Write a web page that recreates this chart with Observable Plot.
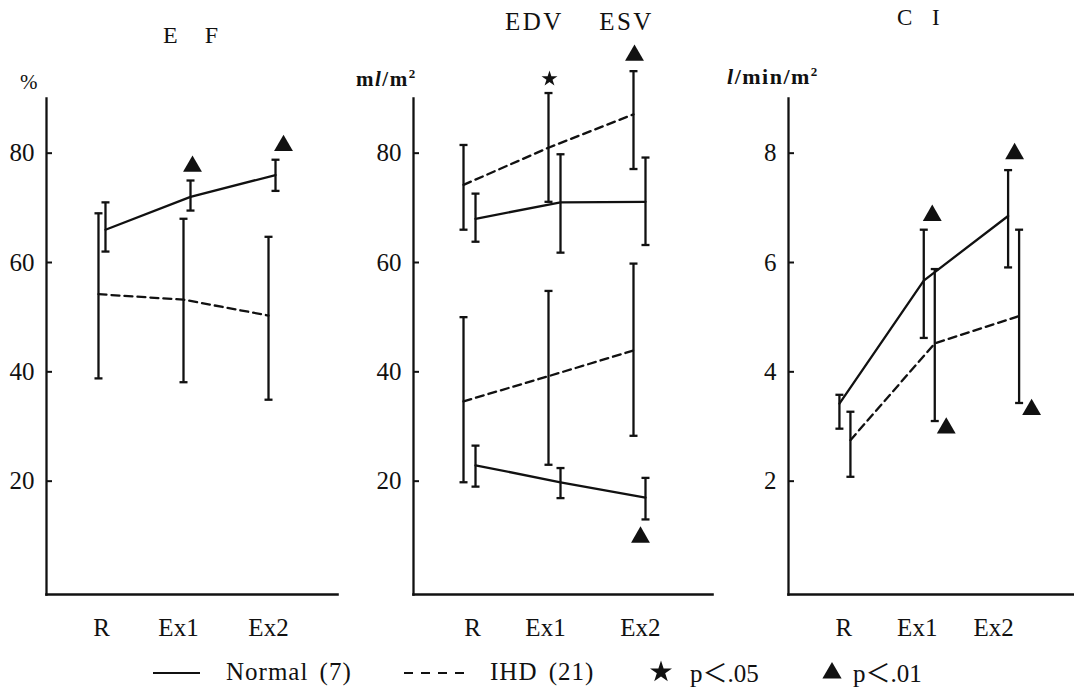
<!DOCTYPE html>
<html><head><meta charset="utf-8">
<script src="https://cdn.jsdelivr.net/npm/d3@7"></script>
<script src="https://cdn.jsdelivr.net/npm/@observablehq/plot@0.6"></script>
<style>
body{margin:0;background:#fff;}
#root{position:relative;width:1074px;height:690px;font-family:'Liberation Serif';color:#111;overflow:hidden;}
.abs{position:absolute;white-space:pre;line-height:1;font-family:'Liberation Serif';}
.abs svg{display:block;}
svg text{font-family:'Liberation Serif';}
.cjk{font-family:'Noto Sans CJK JP';}
</style></head><body><div id="root"></div>
<script>
// ---------- data ----------
const categories = ["R", "Ex1", "Ex2"];

// E F (%)
const efNormalMean  = [66, 72, 76];
const efNormalUpper = [71, 75, 78.8];
const efNormalLower = [62, 69.5, 73.1];
const efIhdMean  = [54.2, 53.2, 50.3];
const efIhdUpper = [69, 68, 64.7];
const efIhdLower = [38.8, 38.1, 34.9];
const efSigCats   = ["Ex1", "Ex2"];
const efSigValues = [77.6, 81.4];
const efSigKinds  = ["p01", "p01"];

// EDV (ml/m2)
const edvNormalMean  = [68, 71, 71.1];
const edvNormalUpper = [72.6, 79.8, 79.2];
const edvNormalLower = [63.8, 61.8, 63.2];
const edvIhdMean  = [74.2, 81, 87.1];
const edvIhdUpper = [81.5, 91, 95];
const edvIhdLower = [66, 71.1, 77.1];
// ESV (ml/m2)
const esvNormalMean  = [22.9, 19.8, 17];
const esvNormalUpper = [26.5, 22.4, 20.6];
const esvNormalLower = [19, 16.9, 13];
const esvIhdMean  = [34.6, 39.2, 43.9];
const esvIhdUpper = [50, 54.8, 59.8];
const esvIhdLower = [19.8, 23, 28.3];
const volSigCats   = ["Ex1", "Ex2", "Ex2"];
const volSigValues = [93.6, 97.9, 9.75];
const volSigKinds  = ["p05", "p01", "p01"];

// C I (l/min/m2)
const ciNormalMean  = [3.42, 5.67, 6.85];
const ciNormalUpper = [3.58, 6.6, 7.69];
const ciNormalLower = [2.96, 4.62, 5.91];
const ciIhdMean  = [2.75, 4.52, 5.02];
const ciIhdUpper = [3.27, 5.88, 6.6];
const ciIhdLower = [2.08, 3.1, 3.43];
const ciSigCats   = ["Ex1", "Ex2", "Ex1", "Ex2"];
const ciSigValues = [6.86, 7.99, 2.97, 3.31];
const ciSigKinds  = ["p01", "p01", "p01", "p01"];

const efTicks = [20, 40, 60, 80];
const volTicks = [20, 40, 60, 80];
const ciTicks = [2, 4, 6, 8];

// ---------- helpers ----------
const rowsOf = (mean, upper, lower) =>
  categories.map((c, i) => ({cat: c, xi: i + 1, mean: mean[i], upper: upper[i], lower: lower[i]}));
const catIndex = c => categories.indexOf(c) + 1;

const capSymbol = {
  draw(ctx, size) {
    const w = Math.sqrt(size / Math.PI);
    ctx.moveTo(-w, 0);
    ctx.lineTo(w, 0);
  }
};

const FONT = "Liberation Serif";

// layout / style per panel (pixels only here)
const panels = [
  {
    left: 0, width: 345, marginLeft: 46, marginRight: 8, xDomain: [0.365, 3.788],
    yDomain: [0, 90], yTicks: efTicks, dxN: 5, dxI: -2, labelDx: [1, -7, -2],
    series: [
      {group: "Normal", rows: rowsOf(efNormalMean, efNormalUpper, efNormalLower)},
      {group: "IHD", rows: rowsOf(efIhdMean, efIhdUpper, efIhdLower)}
    ],
    sig: {cats: efSigCats, values: efSigValues, kinds: efSigKinds}, sigDx: [7, 13]
  },
  {
    left: 350, width: 364, marginLeft: 63, marginRight: 2, xDomain: [0.341, 3.859],
    yDomain: [0, 90], yTicks: volTicks, dxN: 6, dxI: -6, labelDx: [3, -9, 1],
    series: [
      {group: "Normal", rows: rowsOf(edvNormalMean, edvNormalUpper, edvNormalLower)},
      {group: "IHD", rows: rowsOf(edvIhdMean, edvIhdUpper, edvIhdLower)},
      {group: "Normal", rows: rowsOf(esvNormalMean, esvNormalUpper, esvNormalLower)},
      {group: "IHD", rows: rowsOf(esvIhdMean, esvIhdUpper, esvIhdLower)}
    ],
    sig: {cats: volSigCats, values: volSigValues, kinds: volSigKinds}, sigDx: [-5, -5, 1]
  },
  {
    left: 714, width: 360, marginLeft: 74, marginRight: 0, xDomain: [0.331, 3.722],
    yDomain: [0, 9], yTicks: ciTicks, dxN: -5.5, dxI: 5.5, labelDx: [-1, -12, -20],
    series: [
      {group: "Normal", rows: rowsOf(ciNormalMean, ciNormalUpper, ciNormalLower)},
      {group: "IHD", rows: rowsOf(ciIhdMean, ciIhdUpper, ciIhdLower)}
    ],
    sig: {cats: ciSigCats, values: ciSigValues, kinds: ciSigKinds}, sigDx: [3, 1, 17, 18]
  }
];

const root = document.getElementById("root");

for (const p of panels) {
  const marks = [
    Plot.frame({anchor: "left", stroke: "#111", strokeWidth: 2.3}),
    Plot.frame({anchor: "bottom", stroke: "#111", strokeWidth: 2.6}),
    Plot.axisY({ticks: p.yTicks, tickSize: -6, tickPadding: 18, fontSize: 25, fontFamily: FONT, label: null, stroke: "#111", strokeWidth: 2})
  ];
  categories.forEach((c, i) => {
    marks.push(Plot.axisX({ticks: [i + 1], tickFormat: () => c, tickSize: 0, tickPadding: 24,
      fontSize: 25, fontFamily: FONT, label: null, dx: p.labelDx[i]}));
  });
  for (const s of p.series) {
    const dx = s.group === "Normal" ? p.dxN : p.dxI;
    const dashed = s.group === "IHD";
    marks.push(Plot.line(s.rows, {x: "xi", y: "mean", dx, stroke: "#111", strokeWidth: 2.3,
      strokeDasharray: dashed ? "8,5" : "none"}));
    marks.push(Plot.ruleX(s.rows, {x: "xi", y1: "lower", y2: "upper", dx, stroke: "#111", strokeWidth: 2.3}));
    const caps = s.rows.flatMap(r => [{xi: r.xi, v: r.lower}, {xi: r.xi, v: r.upper}]);
    marks.push(Plot.dot(caps, {x: "xi", y: "v", dx, symbol: capSymbol, r: 4, stroke: "#111", strokeWidth: 2.3, fill: "none"}));
  }
  p.sig.cats.forEach((c, i) => {
    const kind = p.sig.kinds[i];
    marks.push(Plot.dot([{xi: catIndex(c), v: p.sig.values[i]}], {
      x: "xi", y: "v", dx: p.sigDx[i],
      symbol: kind === "p01" ? "triangle" : "star",
      r: kind === "p01" ? 7 : 5, fill: "#111", stroke: "none"
    }));
  });
  const chart = Plot.plot({
    width: p.width, height: 640,
    marginLeft: p.marginLeft, marginRight: p.marginRight, marginTop: 98, marginBottom: 46,
    x: {type: "linear", domain: p.xDomain},
    y: {type: "linear", domain: p.yDomain, range: [590, 98]},
    style: {fontFamily: FONT, color: "#111", background: "transparent", overflow: "visible"},
    marks
  });
  chart.style.fontFamily = FONT;
  const wrap = document.createElement("div");
  wrap.className = "abs";
  wrap.style.left = p.left + "px";
  wrap.style.top = "0px";
  wrap.appendChild(chart);
  root.appendChild(wrap);
}

// ---------- titles, units, legend ----------
function addText(html, left, top, size, extra) {
  const d = document.createElement("div");
  d.className = "abs";
  d.innerHTML = html;
  d.style.left = left + "px";
  d.style.top = top + "px";
  d.style.fontSize = size + "px";
  d.style.fontFamily = FONT;
  if (extra) Object.assign(d.style, extra);
  root.appendChild(d);
  return d;
}
addText("E F", 163, 23, 24, {wordSpacing: "21px"});
addText("EDV ESV", 505, 9, 25, {letterSpacing: "2.5px", wordSpacing: "27px"});
addText("C I", 897, 6, 23, {wordSpacing: "14px"});
addText("%", 20, 72, 21);
addText("m<i>l</i>/m<sup style='font-size:13px;vertical-align:8px'>2</sup>", 356, 67, 21, {fontWeight: "bold", letterSpacing: "1.5px"});
addText("<i>l</i>/min/m<sup style='font-size:13px;vertical-align:8px'>2</sup>", 727, 65, 22, {fontWeight: "bold", letterSpacing: "1.5px"});

// legend
const legendSvg = (w, inner) =>
  `<svg width="${w}" height="24" viewBox="0 0 ${w} 24">${inner}</svg>`;
addText(legendSvg(48, `<line x1="0" y1="12" x2="47" y2="12" stroke="#111" stroke-width="2"/>`), 153, 661, 25);
addText("Normal (7)", 226, 659, 25, {letterSpacing: "1px", wordSpacing: "4px"});
addText(legendSvg(62, `<line x1="0" y1="12" x2="62" y2="12" stroke="#111" stroke-width="2" stroke-dasharray="9,8"/>`), 404, 661, 25);
addText("IHD (21)", 490, 659, 25, {letterSpacing: "1px", wordSpacing: "4px"});
addText(legendSvg(24, `<path transform="translate(12,12)" d="${d3.symbol(d3.symbolStar, 150)()}" fill="#111"/>`), 649, 660, 25);
addText("p<span class='cjk'>＜</span>.05", 690, 659, 25);
addText(legendSvg(24, `<path transform="translate(12,13)" d="${d3.symbol(d3.symbolTriangle, 160)()}" fill="#111"/>`), 820, 660, 25);
addText("p<span class='cjk'>＜</span>.01", 853, 659, 25);
</script>
</body></html>
